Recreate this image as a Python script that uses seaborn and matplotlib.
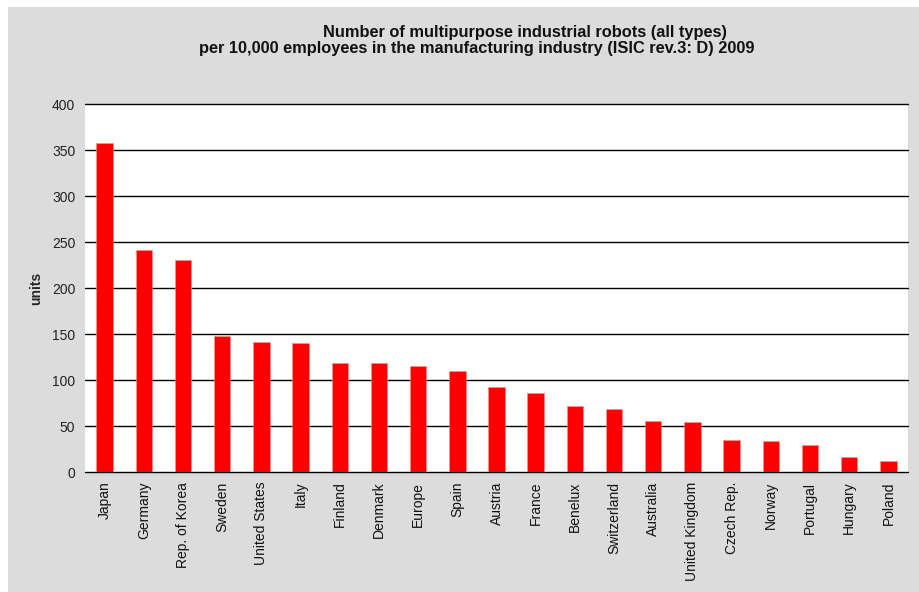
import matplotlib
matplotlib.use("Agg")
import matplotlib.pyplot as plt
import seaborn as sns
import pandas as pd
from matplotlib.patches import Rectangle

countries = ["Japan", "Germany", "Rep. of Korea", "Sweden", "United States", "Italy",
             "Finland", "Denmark", "Europe", "Spain", "Austria", "France", "Benelux",
             "Switzerland", "Australia", "United Kingdom", "Czech Rep.", "Norway",
             "Portugal", "Hungary", "Poland"]
robots = [358, 241, 230, 148, 141, 140, 119, 118, 115, 110, 92, 86, 72, 68, 55, 54,
          35, 34, 29, 16, 12]
yticks = [0, 50, 100, 150, 200, 250, 300, 350, 400]

sns.set_theme(style="white")
plt.rcParams['font.family'] = ['Liberation Sans', 'DejaVu Sans']

df = pd.DataFrame({"country": countries, "units": robots})

fig = plt.figure(figsize=(9.2, 5.92), dpi=100, facecolor="white")
bg = Rectangle((8 / 920, 0), 1, 1 - 7 / 592, transform=fig.transFigure,
               facecolor="#dcdcdc", edgecolor="none", zorder=-10)
fig.add_artist(bg)
ax = fig.add_axes([85 / 920, 120 / 592, 823 / 920, 368 / 592])
ax.set_facecolor("white")

sns.barplot(data=df, x="country", y="units", color="#ff0000", saturation=1,
            width=0.42, ax=ax, zorder=3, edgecolor="#ff9090", linewidth=0.4)

ax.set_xlim(-0.5, len(countries) - 0.5)
ax.set_ylim(0, 400)
ax.set_yticks(yticks)
ax.set_yticklabels([str(t) for t in yticks], fontsize=10, color="#222222")
for t in yticks:
    ax.axhline(t, color="black", lw=1.0, zorder=1, clip_on=False)
ax.tick_params(axis="both", length=0)
ax.tick_params(axis="y", pad=7)
ax.tick_params(axis="x", pad=7)
ax.set_xticks(range(len(countries)))
ax.set_xticklabels(countries, rotation=90, fontsize=10, color="#111111")
for s in ax.spines.values():
    s.set_visible(False)
ax.set_xlabel("")
ax.set_ylabel("units", fontsize=10, fontweight="bold", labelpad=6)

fig.text(323 / 920, 1 - 32 / 592, "Number of multipurpose industrial robots (all types)",
         ha="left", va="center", fontsize=11.8, fontweight="bold", color="#111111")
fig.text(199 / 920, 1 - 49 / 592,
         "per 10,000 employees in the manufacturing industry (ISIC rev.3: D) 2009",
         ha="left", va="center", fontsize=11.8, fontweight="bold", color="#111111")

fig.savefig("out.png", dpi=100, facecolor="white")
